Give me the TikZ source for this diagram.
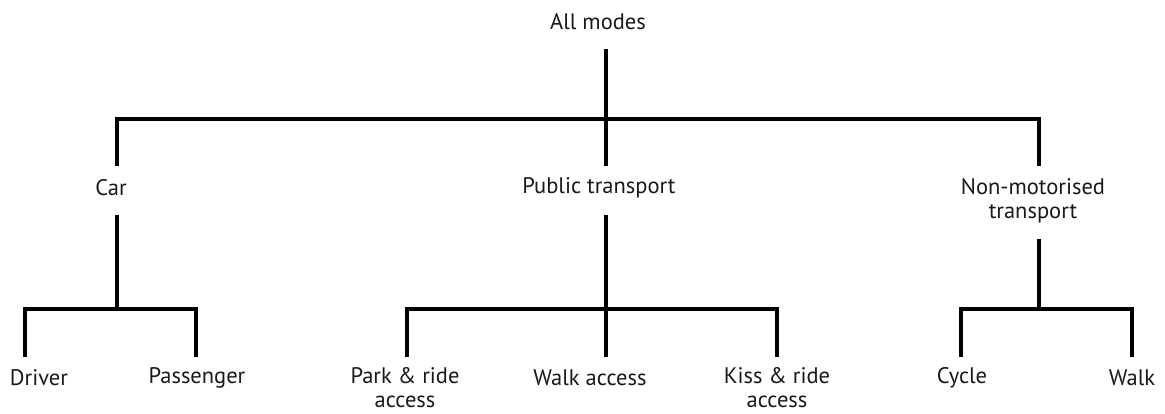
\documentclass[tikz,border=0pt]{standalone}
\usepackage{fontspec}
\setmainfont{PT Sans}
\begin{document}
\begin{tikzpicture}[x=1pt,y=-1pt,
  lbl/.style={inner sep=0pt, align=center, text=black!90, font=\fontsize{22.5}{24}\selectfont},
  branch/.style={line width=3.2pt, line cap=butt, line join=miter}]
\useasboundingbox (0,0) rectangle (1165,414);
% labels
\node[lbl] (all) at (598,22) {All modes};
\node[lbl] (car) at (111,188) {Car};
\node[lbl] (pt) at (599,188) {Public transport};
\node[lbl] (nmt) at (1033,201) {Non-motorised\\transport};
\node[lbl] (drv) at (39,378) {Driver};
\node[lbl] (pas) at (197,378) {Passenger};
\node[lbl, anchor=north] (pr) at (405,367) {Park \& ride\\access};
\node[lbl] (wa) at (590,378) {Walk access};
\node[lbl, anchor=north] (kr) at (777,367) {Kiss \& ride\\access};
\node[lbl] (cyc) at (962,378) {Cycle};
\node[lbl] (wlk) at (1132,378) {Walk};
% junction points
\coordinate (j0) at (606,119);
\coordinate (jc) at (117,309);
\coordinate (jp) at (606,309);
\coordinate (jn) at (1039,309);
% top level
\draw[branch] (606,49) -- (j0);
\draw[branch] (117,166) -- (117,119) -- (1039,119) -- (1039,166);
\draw[branch] (j0) -- (606,166);
% car
\draw[branch] (117,215) -- (jc);
\draw[branch] (25,357) -- (25,309) -- (196,309) -- (196,357);
% public transport
\draw[branch] (606,215) -- (jp) -- (606,357);
\draw[branch] (407,357) -- (407,309) -- (777,309) -- (777,357);
% non-motorised
\draw[branch] (1039,239) -- (jn);
\draw[branch] (961,357) -- (961,309) -- (1132,309) -- (1132,357);
\end{tikzpicture}
\end{document}
